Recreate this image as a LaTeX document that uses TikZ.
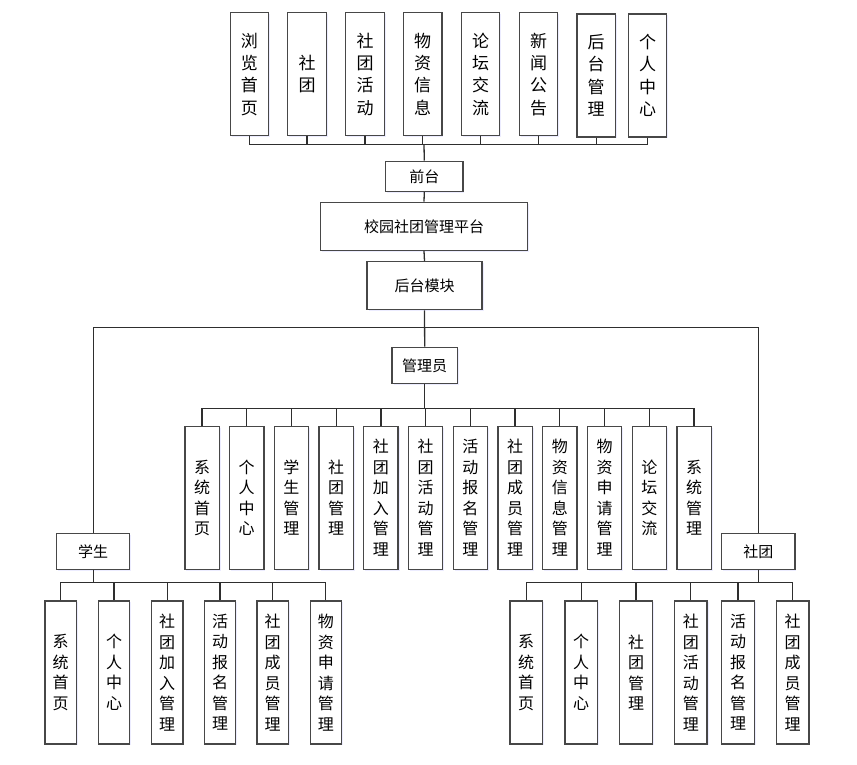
\documentclass[tikz,border=0pt]{standalone}
\usepackage{fontspec}
\newfontfamily\cjk{Noto Sans CJK SC}
\usetikzlibrary{shadows}
\begin{document}
\begin{tikzpicture}[x=1pt,y=-1pt,
  box/.style={draw=black!72, line width=1.3pt, fill=white, inner sep=0pt, align=center,
    drop shadow={shadow xshift=1.5pt, shadow yshift=-1.5pt, fill=blue!12, opacity=0.6}},
  topbox/.style={box, minimum width=38.5pt, minimum height=123pt, font=\cjk\fontsize{17}{22.3}\selectfont},
  midbox/.style={box, font=\cjk\fontsize{15}{17}\selectfont},
  subbox/.style={box, minimum height=143pt, font=\cjk\fontsize{16}{20.5}\selectfont},
  link/.style={draw=black!82, line width=1.3pt}]
\useasboundingbox (0,0) rectangle (857,764);

% front-end modules
\node[topbox] (t1) at (249.4,74.2) {浏\\览\\首\\页};
\node[topbox] (t2) at (307.0,74.2) {社\\团};
\node[topbox] (t3) at (365.0,74.2) {社\\团\\活\\动};
\node[topbox] (t4) at (422.7,74.2) {物\\资\\信\\息};
\node[topbox] (t5) at (480.5,74.2) {论\\坛\\交\\流};
\node[topbox] (t6) at (538.5,74.2) {新\\闻\\公\\告};
\node[topbox] (t7) at (596.2,75.4) {后\\台\\管\\理};
\node[topbox] (t8) at (647.5,75.4) {个\\人\\中\\心};

% main chain
\node[midbox, minimum width=77.3pt, minimum height=30.3pt] (qt) at (424.3,176.3) {前台};
\node[midbox, minimum width=206.6pt, minimum height=48pt] (pt) at (424,226.3) {校园社团管理平台};
\node[midbox, minimum width=115pt, minimum height=48pt] (hm) at (424.5,285.7) {后台模块};
\node[midbox, minimum width=65.3pt, minimum height=36pt] (gl) at (424.7,365.3) {管理员};
\node[midbox, minimum width=73pt, minimum height=36pt] (xs) at (93.2,551.3) {学生};
\node[midbox, minimum width=73.3pt, minimum height=36pt] (st) at (758.3,551.3) {社团};

% administrator modules
\foreach \i/\t in {0/{系\\统\\首\\页},1/{个\\人\\中\\心},2/{学\\生\\管\\理},3/{社\\团\\管\\理},
  4/{社\\团\\加\\入\\管\\理},5/{社\\团\\活\\动\\管\\理},6/{活\\动\\报\\名\\管\\理},7/{社\\团\\成\\员\\管\\理},
  8/{物\\资\\信\\息\\管\\理},9/{物\\资\\申\\请\\管\\理},10/{论\\坛\\交\\流},11/{系\\统\\管\\理}}
  \node[subbox, minimum width=34.3pt] (a\i) at (202+\i*44.73,497.8) {\t};

% student modules
\foreach \i/\x/\t in {1/60.7/{系\\统\\首\\页},2/114/{个\\人\\中\\心},3/167.2/{社\\团\\加\\入\\管\\理},
  4/220/{活\\动\\报\\名\\管\\理},5/272.7/{社\\团\\成\\员\\管\\理},6/325.8/{物\\资\\申\\请\\管\\理}}
  \node[subbox, minimum width=31.3pt] (s\i) at (\x,672.4) {\t};

% club modules
\foreach \i/\x/\t in {1/526.2/{系\\统\\首\\页},2/581.2/{个\\人\\中\\心},3/636/{社\\团\\管\\理},
  4/690.8/{社\\团\\活\\动\\管\\理},5/738/{活\\动\\报\\名\\管\\理},6/792.7/{社\\团\\成\\员\\管\\理}}
  \node[subbox, minimum width=32.5pt] (c\i) at (\x,672.4) {\t};

% bus junctions
\coordinate (tb) at (424,144.5);
\coordinate (sp) at (424,327.3);
\coordinate (ab) at (424.7,408.3);
\coordinate (sb) at (93.2,582.3);
\coordinate (cb) at (758.3,582.3);

% connectors
\foreach \i in {1,...,8} \draw[link] (t\i.south) |- (tb);
\draw[link] (tb) -- (qt.north);
\draw[link] (qt.south) -- (pt.north);
\draw[link] (pt.south) -- (hm.north);
\draw[link] (hm.south) -- (gl.north);
\draw[link] (xs.north) |- (sp) -| (st.north);
\draw[link] (gl.south) -- (ab);
\foreach \i in {0,...,11} \draw[link] (a\i.north) |- (ab);
\draw[link] (xs.south) -- (sb);
\foreach \i in {1,...,6} \draw[link] (s\i.north) |- (sb);
\draw[link] (st.south) -- (cb);
\foreach \i in {1,...,6} \draw[link] (c\i.north) |- (cb);
\end{tikzpicture}
\end{document}
